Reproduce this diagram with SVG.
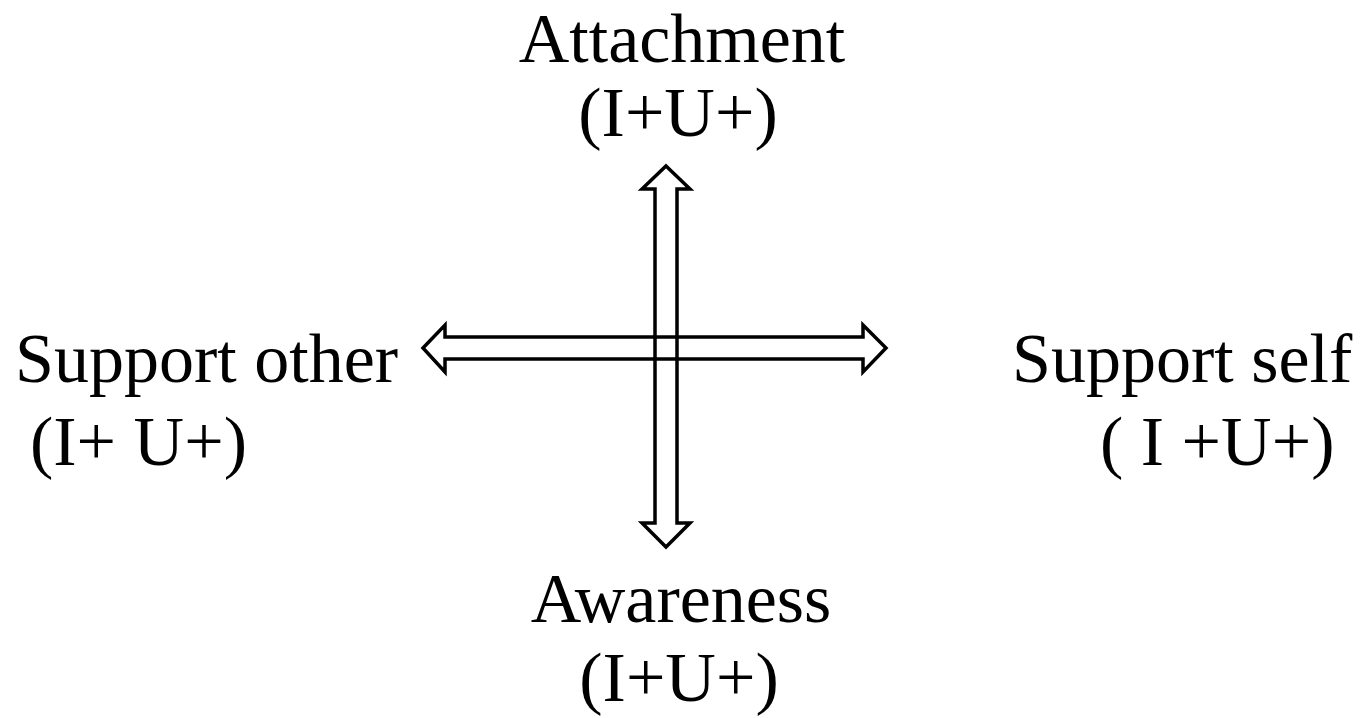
<svg xmlns="http://www.w3.org/2000/svg" width="1363" height="718" viewBox="0 0 1363 718">
<style>
text{font-family:"Liberation Serif","Times New Roman",serif;font-size:70px;fill:#000}
.arr{fill:none;stroke:#000;stroke-width:3.5;stroke-linejoin:miter}
</style>
<rect width="1363" height="718" fill="#fff"/>
<g id="connectors">
<polygon class="arr" points="666,166 690,189 677,189 677,523 690,523 666,547 642,523 655,523 655,189 642,189"/>
<polygon class="arr" points="423,348 445,325 445,337 863,337 863,325 886,348 863,372 863,359 445,359 445,372"/>
</g>
<g id="attachment"><text x="682" y="62" text-anchor="middle">Attachment</text><text x="678" y="136" text-anchor="middle">(I+U+)</text></g>
<g id="support-other"><text x="15" y="382">Support other</text><text x="30" y="465">(I+ U+)</text></g>
<g id="support-self"><text x="1012" y="382">Support self</text><text x="1100" y="465">( I +U+)</text></g>
<g id="awareness"><text x="681" y="622" text-anchor="middle">Awareness</text><text x="679" y="701" text-anchor="middle">(I+U+)</text></g>
</svg>
